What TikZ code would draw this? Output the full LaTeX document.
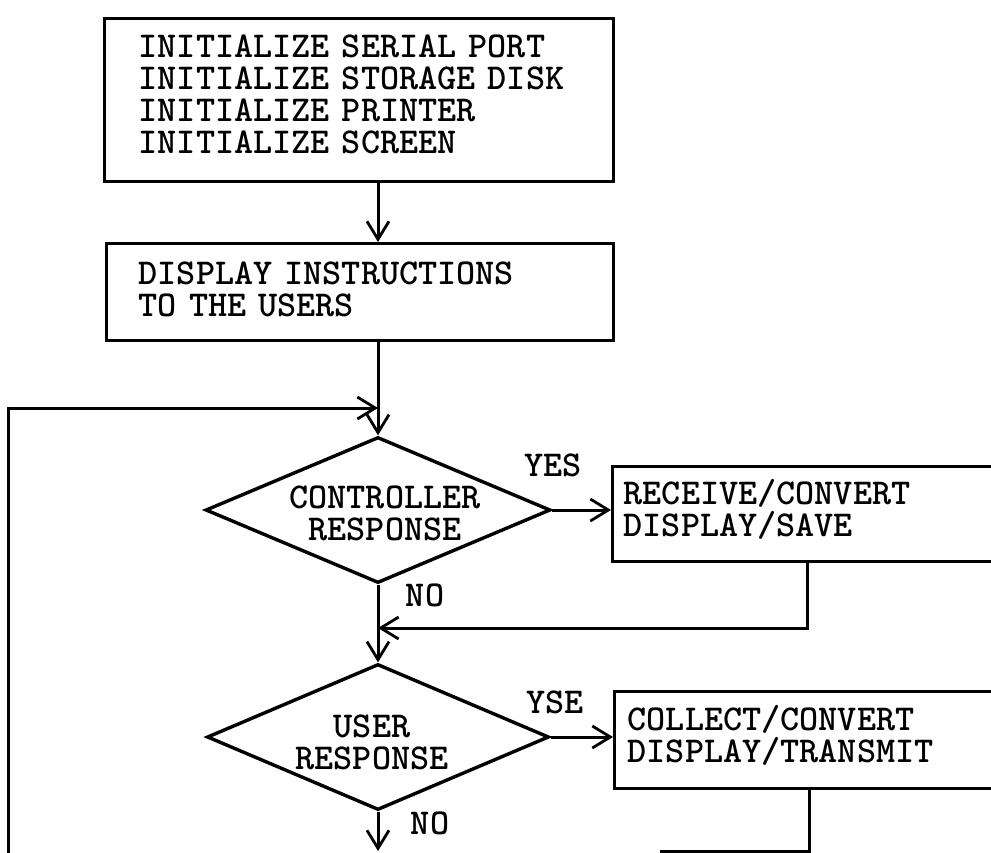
\documentclass[tikz,border=0pt]{standalone}
\usetikzlibrary{arrows.meta,shapes.geometric}
\newcommand\dropby[1]{\rule[-#1]{0pt}{#1}}
\begin{document}
\begin{tikzpicture}[x=0.5pt,y=-0.5pt,
  every node/.style={font=\ttfamily\bfseries\fontsize{18.2}{16}\selectfont},
  procbox/.style={draw, line width=1.7pt, anchor=north west, align=left, inner ysep=0pt},
  decision/.style={draw, diamond, line width=1.7pt, inner sep=0pt},
  link/.style={line width=1.5pt},
  arr/.style={link, -{Straight Barb[length=9pt,width=11pt,line width=1.4pt]}},
  lbl/.style={inner sep=0pt}
]
\useasboundingbox (0,0) rectangle (991,852);

% process boxes
\node[procbox, minimum width=254.5pt, minimum height=81.5pt, inner xsep=17pt, text width=220.5pt] (b1) at (103,17)
  {INITIALIZE SERIAL PORT\\INITIALIZE STORAGE DISK\\INITIALIZE PRINTER\\INITIALIZE SCREEN\dropby{6pt}};
\node[procbox, minimum width=253.5pt, minimum height=48.5pt, inner xsep=16pt, text width=221.5pt] (b2) at (105,242)
  {DISPLAY INSTRUCTIONS\\TO THE USERS\dropby{3pt}};
\node[procbox, minimum width=214.5pt, minimum height=47.5pt, inner xsep=5.5pt, text width=203.5pt] (b3) at (611,465)
  {RECEIVE/CONVERT\\DISPLAY/SAVE\dropby{6pt}};
\node[procbox, minimum width=213.5pt, minimum height=48.5pt, inner xsep=6.5pt, text width=200.5pt] (b4) at (613,690)
  {COLLECT/CONVERT\\DISPLAY/TRANSMIT\dropby{6pt}};

% decisions
\node[decision, minimum width=172.5pt, minimum height=73pt] (d1) at (378,510) {};
\node[lbl, align=center] (d1t) at (385,513) {CONTROLLER\\RESPONSE};
\node[decision, minimum width=171pt, minimum height=73pt] (d2) at (378,737) {};
\node[lbl, align=center] (d2t) at (372,742) {USER\\RESPONSE};

% branch labels
\node[lbl] (yes) at (553,465) {YES};
\node[lbl] (yse) at (555,702) {YSE};
\node[lbl] (no1) at (425,595) {NO};
\node[lbl] (no2) at (430,823) {NO};

% helper points
\coordinate (loopB) at (8,880);
\coordinate (loopT) at (8,408);
\coordinate (m1) at (378,628);
\coordinate (r1) at (807,628);
\coordinate (r2) at (809,851);
\coordinate (r3) at (660,851);
\coordinate (out) at (378,851);

% connectors
\draw[arr] (b1.south -| d1.north) -- (b2.north -| d1.north);
\draw[arr] (b2.south -| d1.north) -- (d1.north);
\draw[arr] (loopB) -- (loopT) -- (loopT -| d1.north);
\draw[arr] (d1.east) -- (d1.east -| b3.west);
\draw[link] (d1.south) -- (m1);
\draw[arr] (r1 |- b3.south) -- (r1) -- (m1);
\draw[arr] (m1) -- (d2.north);
\draw[arr] (d2.east) -- (d2.east -| b4.west);
\draw[arr] (d2.south) -- (out);
\draw[link] (r2 |- b4.south) -- (r2) -- (r3);
\end{tikzpicture}
\end{document}
